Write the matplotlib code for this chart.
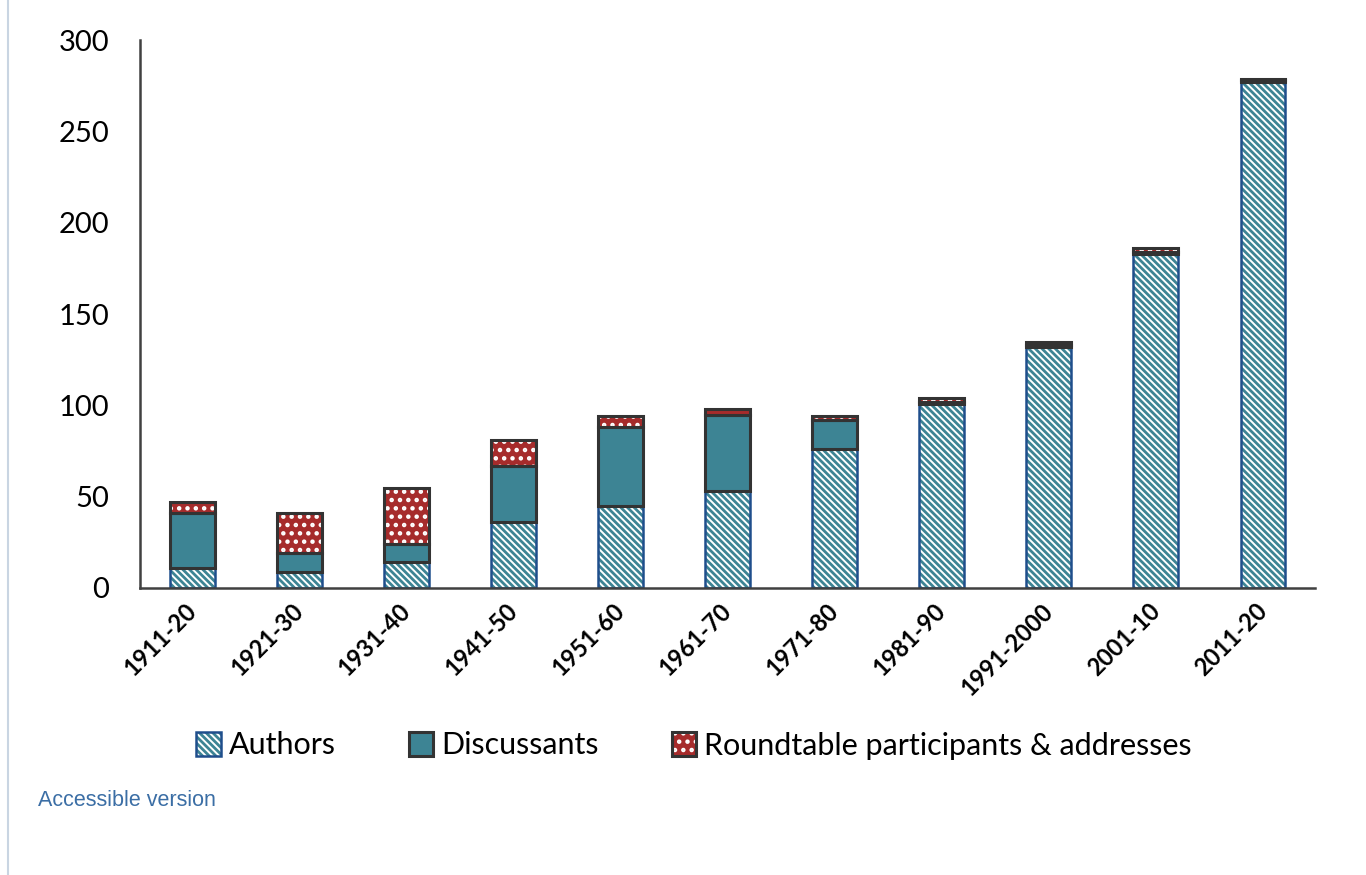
import matplotlib.pyplot as plt
from matplotlib.lines import Line2D
from matplotlib.transforms import ScaledTranslation
import numpy as np

decades = ['1911-20', '1921-30', '1931-40', '1941-50', '1951-60', '1961-70',
           '1971-80', '1981-90', '1991-2000', '2001-10', '2011-20']
authors = [11, 9, 14, 36, 45, 53, 76, 101, 132, 183, 277]
discussants = [30, 10, 10, 31, 43, 42, 16, 1, 1, 1, 1]
roundtable = [6, 22, 31, 14, 6, 3, 2, 2, 2, 2, 1]
labels = ['Authors', 'Discussants', 'Roundtable participants & addresses']

teal = '#3D8494'
red = '#A62B2B'
navy = '#1F4E8C'
dark = '#333333'

plt.rcParams['font.family'] = ['Lato', 'DejaVu Sans']
plt.rcParams['hatch.linewidth'] = 2.0

fig = plt.figure(figsize=(13.66, 8.75), dpi=100)
ax = fig.add_axes([0.1025, 0.328, 0.8605, 0.626])

x = np.arange(len(decades))
w = 0.42
a = np.array(authors)
d = np.array(discussants)
r = np.array(roundtable)

# authors: teal diagonal stripes, navy outline drawn as a separate pass
h1 = ax.bar(x, a, w, color='white', edgecolor=teal, hatch='\\' * 5, linewidth=0)
o1 = ax.bar(x, a, w, fill=False, edgecolor=navy, linewidth=1.8)
b2 = ax.bar(x, d, w, bottom=a, color=teal, edgecolor=dark, linewidth=2.2)
h3 = ax.bar(x, r, w, bottom=a + d, color=red, edgecolor='white', hatch='..', linewidth=0)
o3 = ax.bar(x, r, w, bottom=a + d, fill=False, edgecolor=dark, linewidth=2.2)

ax.set_xlim(-0.49, 10.49)
ax.set_ylim(0, 300)
ax.set_yticks(range(0, 301, 50))
ax.set_xticks(x)
ax.set_xticklabels(decades, rotation=45, ha='right', va='center',
                   rotation_mode='anchor', fontsize=17, fontweight='bold')
shift = ScaledTranslation(0.25, -0.14, fig.dpi_scale_trans)
for lbl in ax.get_xticklabels():
    lbl.set_transform(lbl.get_transform() + shift)
ax.tick_params(axis='y', length=0, labelsize=21, pad=22)
ax.tick_params(axis='x', length=0, pad=14)

for s in ['top', 'right']:
    ax.spines[s].set_visible(False)
for s in ['left', 'bottom']:
    ax.spines[s].set_color('#404040')
    ax.spines[s].set_linewidth(1.8)

handles = [(h1[0], o1[0]), b2[0], (h3[0], o3[0])]
fig.legend(handles, labels, loc='center', bbox_to_anchor=(0.508, 0.148),
           ncol=3, frameon=False, fontsize=22, handlelength=0.8,
           handleheight=0.8, columnspacing=2.4, handletextpad=0.25)

fig.text(38 / 1366, 1 - 800 / 875, 'Accessible version', color='#3B6EA5',
         fontsize=15.5, family='Liberation Sans', va='center')
fig.add_artist(Line2D([8 / 1366, 8 / 1366], [0, 1], color='#C9D5E2', lw=1.5,
                      transform=fig.transFigure))

fig.savefig('out.png', dpi=100)
